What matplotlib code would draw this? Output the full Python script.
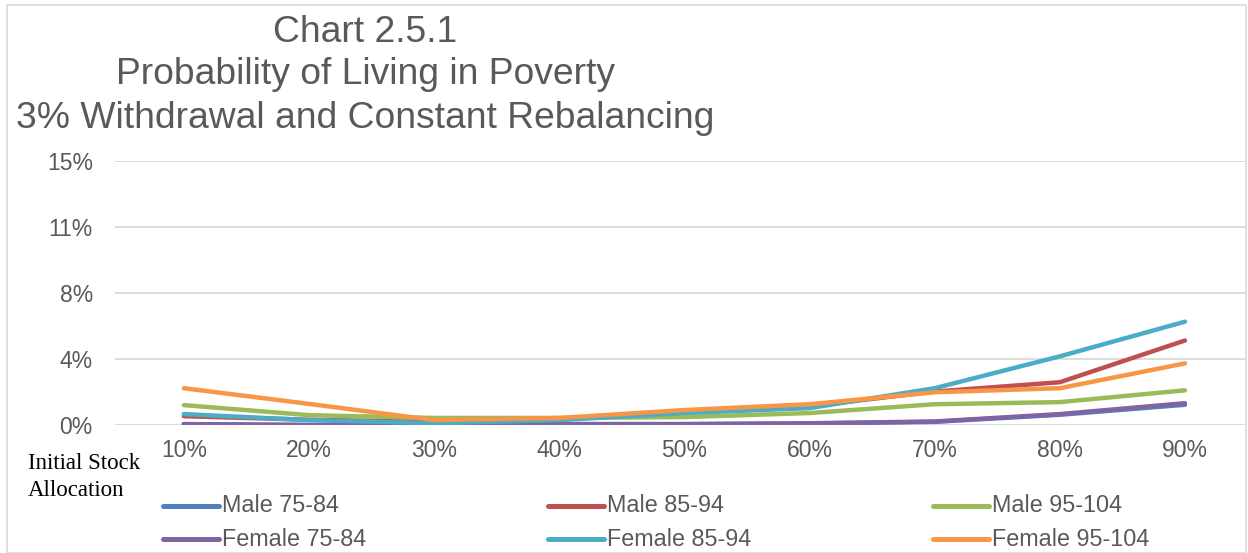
import matplotlib
matplotlib.use("Agg")
import matplotlib.pyplot as plt
from matplotlib.ticker import FixedLocator
from matplotlib.patches import Rectangle
from matplotlib.lines import Line2D

categories = ["10%", "20%", "30%", "40%", "50%", "60%", "70%", "80%", "90%"]
male_75_84 = [0.05, 0.0, 0.0, 0.05, 0.05, 0.08, 0.18, 0.58, 1.15]
male_85_94 = [0.50, 0.30, 0.17, 0.34, 0.73, 1.07, 1.90, 2.43, 4.80]
male_95_104 = [1.13, 0.56, 0.40, 0.40, 0.45, 0.68, 1.18, 1.30, 1.97]
female_75_84 = [0.05, 0.0, 0.0, 0.05, 0.05, 0.10, 0.20, 0.62, 1.24]
female_85_94 = [0.62, 0.28, 0.10, 0.28, 0.68, 0.96, 2.09, 3.90, 5.87]
female_95_104 = [2.09, 1.20, 0.28, 0.40, 0.85, 1.18, 1.86, 2.09, 3.50]
y_ticks = [0, 3.75, 7.5, 11.25, 15]
y_labels = ["0%", "4%", "8%", "11%", "15%"]

series = [
    ("Male 75-84", male_75_84, "#4F81BD"),
    ("Male 85-94", male_85_94, "#C0504D"),
    ("Male 95-104", male_95_104, "#9BBB59"),
    ("Female 75-84", female_75_84, "#8064A2"),
    ("Female 85-94", female_85_94, "#4BACC6"),
    ("Female 95-104", female_95_104, "#F79646"),
]

plt.rcParams['font.family'] = ['Liberation Sans', 'DejaVu Sans']
W, H = 1248, 553
fig = plt.figure(figsize=(W / 100, H / 100), dpi=100)
ax = fig.add_axes([115 / W, 1 - 425 / H, (1245 - 115) / W, (425 - 161) / H])

x = list(range(len(categories)))
handles = []
for name, vals, col in series:
    h, = ax.plot(x, vals, color=col, lw=3.2, solid_capstyle='round', solid_joinstyle='round', label=name)
    handles.append(h)

ax.set_xlim(-0.55, 8.48)
ax.set_ylim(0, 15)
ax.yaxis.set_major_locator(FixedLocator(y_ticks))
ax.set_yticklabels(y_labels)
ax.set_xticks(x)
ax.set_xticklabels(categories)
ax.grid(axis='y', color='#d9d9d9', lw=1.3)
ax.set_axisbelow(True)
for s in ax.spines.values():
    s.set_visible(False)
ax.tick_params(axis='both', length=0, labelsize=16.5, colors='#595959')
ax.tick_params(axis='y', pad=16)
ax.tick_params(axis='x', pad=10)

# title
title_lines = ["Chart 2.5.1", "Probability of Living in Poverty", "3% Withdrawal and Constant Rebalancing"]
ys = [33, 74, 118]
for t, yy in zip(title_lines, ys):
    fig.text(365 / W, 1 - yy / H, t, ha='center', va='center', fontsize=26.8, color='#595959')

fig.text(28 / W, 1 - 477 / H, "Initial Stock\nAllocation", ha='left', va='center',
         fontsize=16.5, family=['Liberation Serif', 'DejaVu Serif'], color='black', linespacing=1.4)

# legend, laid out by hand: 3 columns x 2 rows
order = [0, 3, 1, 4, 2, 5]
col_x = [163, 548, 933]
row_y = [506, 539]
for k, i in enumerate(order):
    c, r = k // 2, k % 2
    x0 = col_x[c]
    yy = 1 - row_y[r] / H
    fig.add_artist(Line2D([x0 / W, (x0 + 56) / W], [yy, yy], transform=fig.transFigure,
                          color=series[i][2], lw=3.6, solid_capstyle='round'))
    fig.text((x0 + 59) / W, yy, series[i][0], ha='left', va='center', fontsize=16.8, color='#595959')

fig.patches.append(Rectangle((7 / W, 0), (1246 - 7) / W, 1 - 5 / H, transform=fig.transFigure,
                             fill=False, edgecolor='#d9d9d9', lw=1.2))

fig.savefig("out.png", dpi=100)
